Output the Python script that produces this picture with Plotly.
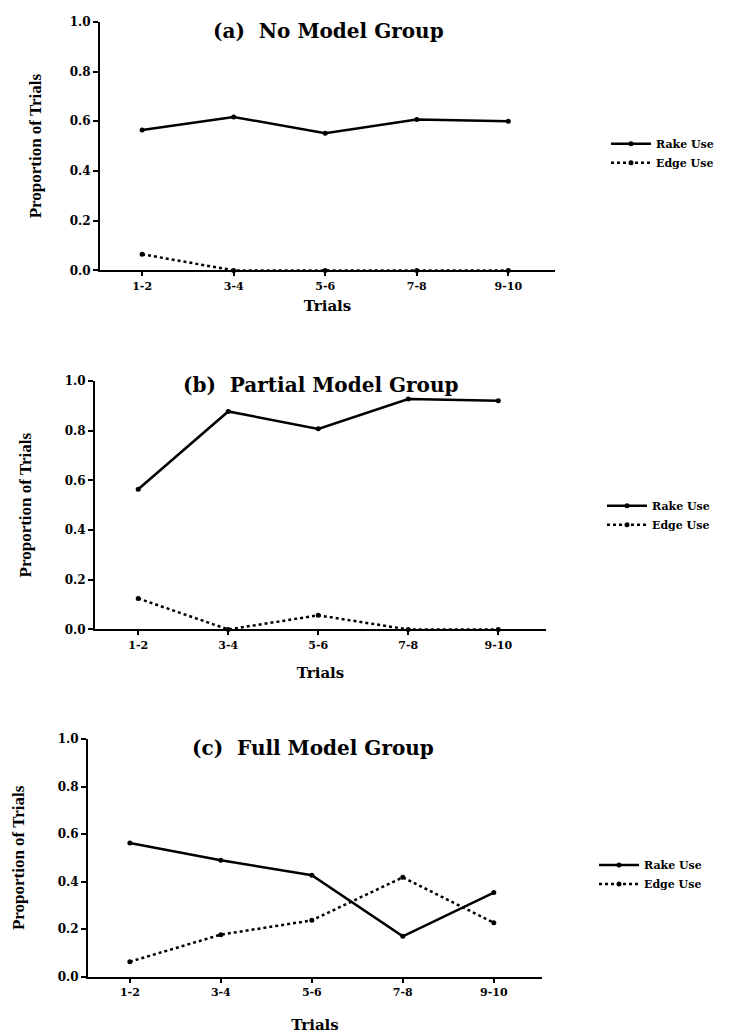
import plotly.graph_objects as go

trials = ["1-2", "3-4", "5-6", "7-8", "9-10"]
y_ticks = [0.0, 0.2, 0.4, 0.6, 0.8, 1.0]
y_tick_labels = ["0.0", "0.2", "0.4", "0.6", "0.8", "1.0"]

rake_no_model = [0.565, 0.617, 0.552, 0.607, 0.600]
edge_no_model = [0.065, 0.0, 0.0, 0.0, 0.0]

rake_partial = [0.564, 0.877, 0.807, 0.927, 0.920]
edge_partial = [0.125, 0.0, 0.057, 0.0, 0.0]

rake_full = [0.562, 0.490, 0.427, 0.170, 0.354]
edge_full = [0.063, 0.177, 0.237, 0.418, 0.227]

titles = ["(a)  No Model Group", "(b)  Partial Model Group", "(c)  Full Model Group"]
series = [(rake_no_model, edge_no_model), (rake_partial, edge_partial), (rake_full, edge_full)]

W, H = 744, 1036
# pixel geometry of panels: (x_left, x_right, y_top(1.0), y_bottom(0.0), xrange)
panels = [
    (100, 555, 15, 267, [-0.46, 4.51]),
    (95, 546, 379, 631, [-0.48, 4.53]),
    (88, 542, 742, 983, [-0.46, 4.53]),
]
title_pos = [(328, 24), (320, 383), (313, 751)]
legend_pos = [(606, 124), (602, 491), (594, 855)]
ytitle_standoff = [24, 29, 29]
xtitle_standoff = [9, 17, 22]

SERIF = "Liberation Serif"
WIDE = "DejaVu Serif"
fig = go.Figure()
layout = {}
for i, ((rake, edge), (xl, xr, yt, yb, xrng)) in enumerate(zip(series, panels)):
    n = "" if i == 0 else str(i + 1)
    leg = "legend" if i == 0 else "legend" + str(i + 1)
    fig.add_trace(go.Scatter(
        x=trials, y=rake, name="Rake Use", mode="lines+markers",
        line=dict(color="black", width=2.5), marker=dict(color="black", size=5),
        xaxis="x" + n, yaxis="y" + n, legend=leg, cliponaxis=False))
    fig.add_trace(go.Scatter(
        x=trials, y=edge, name="Edge Use", mode="lines+markers",
        line=dict(color="black", width=2.5, dash="dot"), marker=dict(color="black", size=5),
        xaxis="x" + n, yaxis="y" + n, legend=leg, cliponaxis=False))
    layout["xaxis" + n] = dict(
        domain=[xl / W, xr / W], anchor="y" + n, range=xrng, type="category",
        showline=True, linecolor="black", linewidth=2, ticks="outside", ticklen=4,
        tickcolor="black", tickwidth=2, showgrid=False, zeroline=False,
        tickfont=dict(family=WIDE, size=11, color="black", weight="bold"),
        title=dict(text="Trials", font=dict(family=WIDE, size=15, color="black", weight="bold"),
                   standoff=xtitle_standoff[i]),
    )
    layout["yaxis" + n] = dict(
        domain=[(H - yb) / H, (H - yt) / H], anchor="x" + n, range=[0, 1.0],
        tickvals=y_ticks, ticktext=y_tick_labels,
        showline=True, linecolor="black", linewidth=2, ticks="outside", ticklen=5,
        tickcolor="black", tickwidth=2, showgrid=False, zeroline=False,
        tickfont=dict(family=WIDE, size=12, color="black", weight="bold"),
        title=dict(text="Proportion of Trials", font=dict(family=SERIF, size=17, color="black", weight="bold"),
                   standoff=ytitle_standoff[i]),
    )
    lx, ly = legend_pos[i]
    layout[leg] = dict(
        x=lx / W, y=(H - ly) / H, xanchor="left", yanchor="top",
        font=dict(family=WIDE, size=11, color="black", weight="bold"),
        bgcolor="rgba(0,0,0,0)", tracegroupgap=0, itemwidth=40,
    )
    tx, ty = title_pos[i]
    fig.add_annotation(
        text=titles[i], x=tx / W, y=(H - ty) / H, xref="paper", yref="paper",
        xanchor="center", yanchor="middle", showarrow=False,
        font=dict(family=WIDE, size=20, color="black", weight="bold"))

fig.update_layout(
    width=W, height=H, margin=dict(l=0, r=0, t=0, b=0),
    paper_bgcolor="white", plot_bgcolor="white", showlegend=True, **layout)

fig.write_html("out.html")
